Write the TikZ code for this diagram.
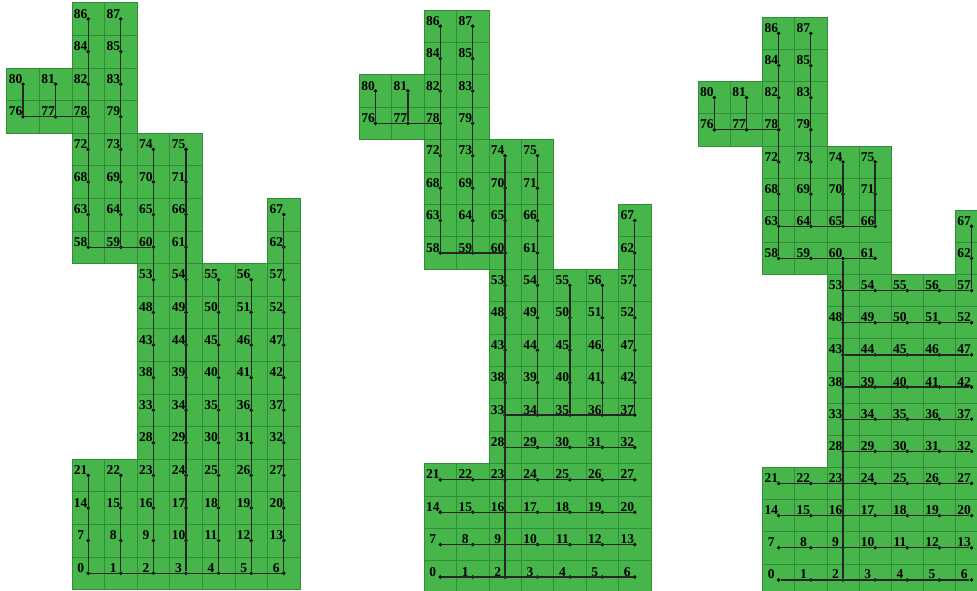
\documentclass[tikz,border=0pt]{standalone}
\usepackage{fontspec}
\setmainfont{Liberation Serif}
\definecolor{cellgreen}{RGB}{70,181,74}
\definecolor{gridgreen}{RGB}{52,140,58}

\newcommand\cell[4]{%
    \draw[cellbox] (#3,#4) rectangle ++(1,1);
    \node[dot] (#1#2) at (#3+0.5,#4+0.5) {};
    \node[lbl] (#1#2l) at (#3+0.27,#4+0.53) {#2};
}
\newcommand\cells[1]{%
    \foreach \r in {0,...,3}
        \foreach \c in {2,...,8} {
            \pgfmathtruncatemacro\n{7*\r+\c-2}
            \cell{#1}{\n}{\c}{\r}
        }
    \foreach \r in {4,...,9}
        \foreach \c in {4,...,8} {
            \pgfmathtruncatemacro\n{28+5*(\r-4)+\c-4}
            \cell{#1}{\n}{\c}{\r}
        }
    \foreach \n/\c/\r in {58/2/10,59/3/10,60/4/10,61/5/10,62/8/10,
        63/2/11,64/3/11,65/4/11,66/5/11,67/8/11,
        68/2/12,69/3/12,70/4/12,71/5/12,
        72/2/13,73/3/13,74/4/13,75/5/13,
        76/0/14,77/1/14,78/2/14,79/3/14,
        80/0/15,81/1/15,82/2/15,83/3/15,
        84/2/16,85/3/16,86/2/17,87/3/17}
        {\cell{#1}{\n}{\c}{\r}}
}

\begin{document}
\begin{tikzpicture}[
    cellbox/.style={fill=cellgreen, draw=gridgreen, line width=0.6pt},
    dot/.style={circle, fill=black, inner sep=0pt, minimum size=3.8pt},
    lbl/.style={anchor=base, inner sep=0pt, font=\bfseries\fontsize{13.5}{14}\selectfont},
    link/.style={draw=black!85, line width=1.3pt}
]
\useasboundingbox (0,0) rectangle (977pt,591pt);
\clip (0,0) rectangle (977pt,591pt);

\begin{scope}[shift={(6.7pt,1.5pt)}, x=32.6pt, y=32.6pt]
    \cells{a}
    \foreach \s/\e in {0/6,0/21,1/22,2/74,3/75,4/55,5/56,6/67,
        58/60,58/86,59/87,76/78,76/80,77/81}
        \draw[link] (a\s) -- (a\e);
\end{scope}

\begin{scope}[shift={(359.3pt,-2.2pt)}, x=32.4pt, y=32.4pt]
    \cells{b}
    \foreach \s/\e in {0/6,7/13,14/20,21/27,28/32,33/37,
        2/74,34/75,35/55,36/56,37/67,
        58/60,58/86,59/87,76/78,76/80,77/81}
        \draw[link] (b\s) -- (b\e);
\end{scope}

\begin{scope}[shift={(698.3pt,-5pt)}, x=32.15pt, y=32.15pt]
    \cells{c}
    \foreach \s/\e in {0/6,7/13,14/20,21/27,28/32,33/37,38/42,43/47,48/52,53/57,
        2/60,58/61,58/86,63/66,64/87,65/74,66/75,57/67,
        76/78,76/80,77/81}
        \draw[link] (c\s) -- (c\e);
\end{scope}
\end{tikzpicture}
\end{document}
